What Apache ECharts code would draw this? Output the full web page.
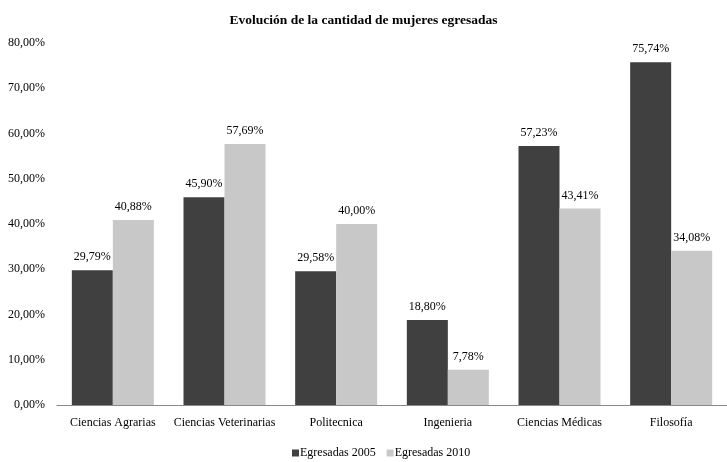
<!DOCTYPE html>
<html>
<head>
<meta charset="utf-8">
<script src="https://cdn.jsdelivr.net/npm/echarts@6/dist/echarts.min.js"></script>
<style>
html, body { margin: 0; padding: 0; background: #fff; }
#chart { width: 727px; height: 462px; }
</style>
</head>
<body>
<div id="chart"></div>
<script>
var categories = ['Ciencias Agrarias', 'Ciencias Veterinarias', 'Politecnica', 'Ingenieria', 'Ciencias Médicas', 'Filosofía'];
var egresadas2005 = [29.79, 45.90, 29.58, 18.80, 57.23, 75.74];
var egresadas2010 = [40.88, 57.69, 40.00, 7.78, 43.41, 34.08];

function pct(v) {
	return v.toFixed(2).replace('.', ',') + '%';
}

var font = "'Liberation Serif', 'Times New Roman', serif";

var chart = echarts.init(document.getElementById('chart'));
chart.setOption({
	animation: false,
	textStyle: { fontFamily: font },
	title: {
		text: 'Evolución de la cantidad de mujeres egresadas',
		left: 'center',
		top: 9,
		textStyle: { fontFamily: font, fontSize: 13.5, fontWeight: 'bold', color: '#000' }
	},
	legend: {
		bottom: -2,
		left: 287,
		itemWidth: 7,
		itemHeight: 7,
		itemGap: 11,
		icon: 'rect',
		textStyle: { fontFamily: font, fontSize: 12, color: '#000', padding: [0, 0, 0, -4] },
		data: ['Egresadas 2005', 'Egresadas 2010']
	},
	grid: { left: 57, right: 0, top: 43, bottom: 57 },
	xAxis: {
		type: 'category',
		data: categories,
		axisLine: { lineStyle: { color: '#888', width: 1 } },
		axisTick: { show: false },
		axisLabel: { fontFamily: font, fontSize: 12, color: '#000', margin: 12, interval: 0 }
	},
	yAxis: {
		type: 'value',
		min: 0,
		max: 80,
		interval: 10,
		splitLine: { show: false },
		axisLine: { show: false },
		axisTick: { show: false },
		axisLabel: { fontFamily: font, fontSize: 12, color: '#000', margin: 12, formatter: pct }
	},
	series: [
		{
			name: 'Egresadas 2005',
			type: 'bar',
			data: egresadas2005,
			barWidth: 41,
			barGap: '0%',
			itemStyle: { color: '#404040' },
			label: { show: true, position: 'top', distance: 7, fontFamily: font, fontSize: 12, color: '#000',
				formatter: function(p) { return pct(p.value); } }
		},
		{
			name: 'Egresadas 2010',
			type: 'bar',
			data: egresadas2010,
			barWidth: 41,
			barGap: '0%',
			itemStyle: { color: '#c8c8c8' },
			label: { show: true, position: 'top', distance: 7, fontFamily: font, fontSize: 12, color: '#000',
				formatter: function(p) { return pct(p.value); } }
		}
	]
});
</script>
</body>
</html>
